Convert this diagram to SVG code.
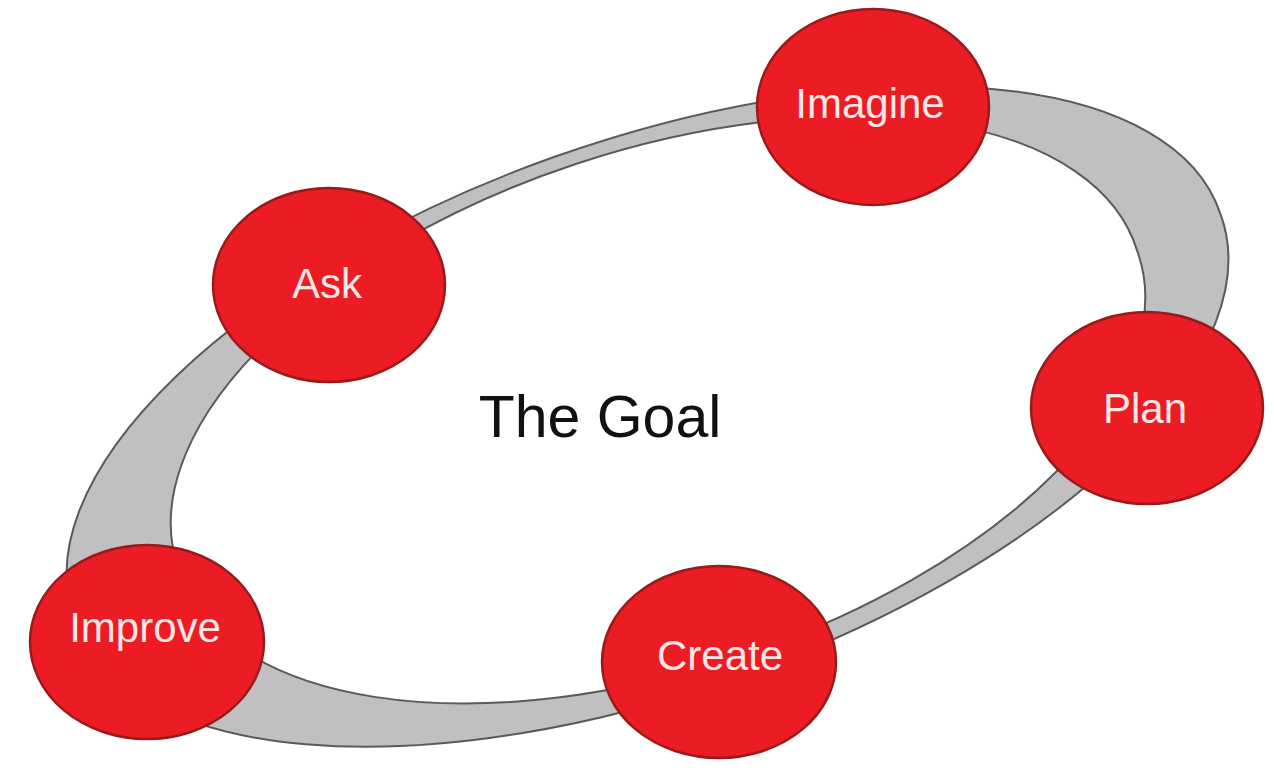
<svg xmlns="http://www.w3.org/2000/svg" width="1274" height="771" viewBox="0 0 1274 771">
<style>
.node ellipse{fill:#ec1c24;stroke:#9a1a1a;stroke-width:2.5}
.node text{font-family:"Liberation Sans",Arial,sans-serif;font-size:42px;fill:#fbe6e6;text-anchor:middle}
.ring{fill:#c0c0c2;stroke:#5a5a5a;stroke-width:2;fill-rule:evenodd}
.title{font-family:"Liberation Sans",Arial,sans-serif;font-size:59px;fill:#111;text-anchor:middle}
</style>
<rect width="1274" height="771" fill="#fff"/>
<g id="connectors">
<path class="ring" d="M 74.7 619.4 a 607.7 273.3 -19.5 1 0 1145.6 -405.8 a 607.7 273.3 -19.5 1 0 -1145.6 405.8 Z M 178.6 568.6 a 505 256 -18.3 1 0 958.8 -317.2 a 505 256 -18.3 1 0 -958.8 317.2 Z"/>
</g>
<text class="title" x="600" y="437">The Goal</text>
<g id="imagine" class="node"><ellipse cx="873" cy="107" rx="116" ry="98"/><text x="870" y="118">Imagine</text></g>
<g id="ask" class="node"><ellipse cx="329" cy="285" rx="116" ry="97"/><text x="327" y="298">Ask</text></g>
<g id="plan" class="node"><ellipse cx="1147" cy="408" rx="116" ry="96"/><text x="1145" y="423">Plan</text></g>
<g id="create" class="node"><ellipse cx="719" cy="662" rx="117" ry="96"/><text x="720" y="670">Create</text></g>
<g id="improve" class="node"><ellipse cx="147" cy="642" rx="117" ry="97"/><text x="145" y="642">Improve</text></g>
</svg>
